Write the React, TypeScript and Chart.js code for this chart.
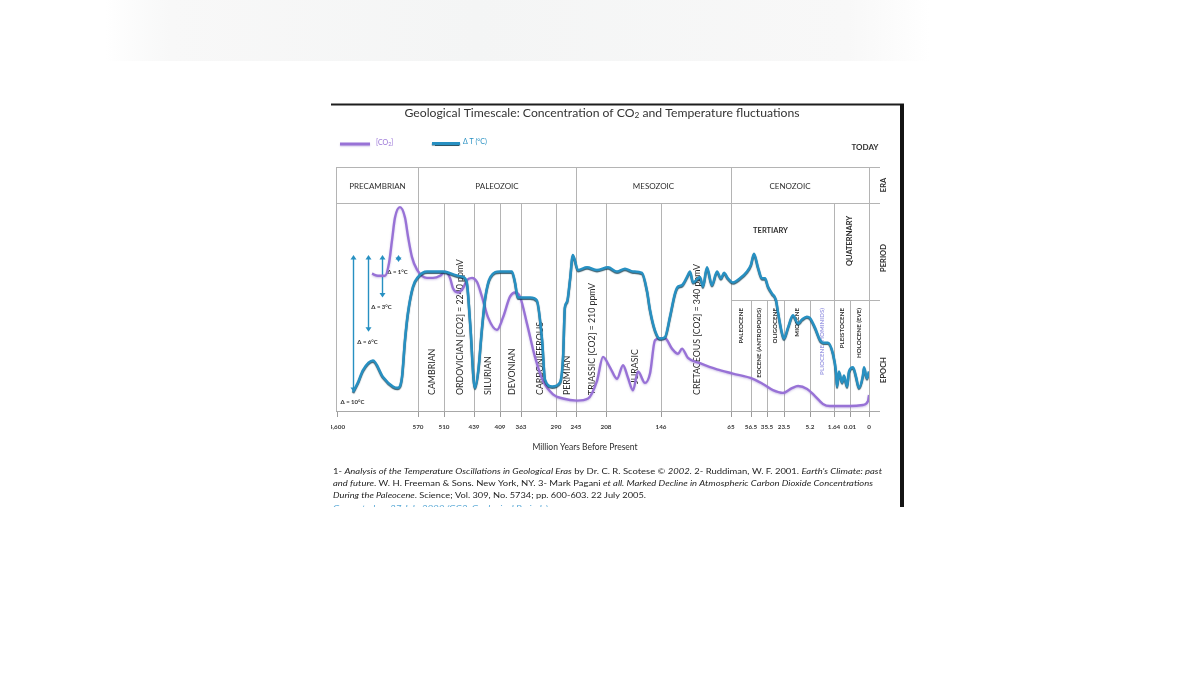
import React, { useEffect, useRef } from "react";
import { Chart, registerables } from "chart.js";

Chart.register(...registerables);

// ---------------- data ----------------
// x axis: non-linear geological time axis (million years before present)
const tickMa = [4600, 570, 510, 439, 409, 363, 290, 245, 208, 146, 65, 56.5, 35.5, 23.5, 5.2, 1.64, 0.01, 0];
const tickLabels = ["4,600", "570", "510", "439", "409", "363", "290", "245", "208", "146", "65", "56.5", "35.5", "23.5", "5.2", "1.64", "0.01", "0"];
// distance of each tick along the axis (axis units)
const tickOffsets = [0, 81, 107, 137, 163, 184, 219, 239, 269, 324, 394, 414, 430, 447, 473, 497, 513, 532];

// temperature fluctuation (°C above the coldest level)
const tempMa = [3804, 3555, 3306, 2809, 2311, 1814, 1565, 1366, 1217, 1068, 819, 570, 549, 512, 479, 465, 456, 448, 438, 434, 430, 426, 420, 409, 383, 376, 370, 344, 330, 319, 313, 298, 281, 274, 270, 265, 258.5, 252, 242.5, 231.4, 219.1, 205.7, 195.6, 186.6, 177.6, 167.4, 161.8, 158.4, 152.8, 147.1, 141.4, 135.6, 129.8, 126.3, 121.7, 115.9, 112.4, 108.9, 100.9, 97.4, 92.8, 87.0, 81.2, 76.6, 73.1, 68.5, 64.2, 61.2, 58.2, 56.5, 52.6, 47.3, 42.1, 38.1, 34.8, 32.0, 29.1, 27.7, 24.9, 23.5, 20.7, 17.2, 13.6, 10.8, 7.4, 5.2, 4.46, 3.72, 3.28, 2.54, 1.79, 1.44, 1.33, 1.13, 0.82, 0.62, 0.31, 0.11, 0.0084, 0.0068, 0.0053, 0.0032, 0.0026, 0.0011, 0];
const tempDelta = [0, 0.7, 1.6, 2.3, 1.1, 0.4, 0.3, 1.1, 3.8, 5.8, 7.7, 8.4, 8.8, 8.8, 8.5, 8.4, 8.0, 5.0, 0.3, 1.6, 4.5, 6.9, 8.4, 8.8, 8.8, 8.0, 6.9, 6.9, 6.7, 3.8, 0.9, 0.4, 0.7, 2.6, 6.2, 6.6, 8.2, 10.0, 8.9, 9.1, 8.9, 9.1, 8.8, 9.0, 8.8, 8.7, 7.4, 6.0, 4.5, 3.9, 4.0, 5.5, 7.2, 7.7, 7.8, 8.4, 8.8, 8.0, 8.4, 7.7, 9.1, 7.8, 8.8, 8.3, 8.7, 8.3, 8.0, 8.3, 8.8, 9.3, 10.1, 9.1, 8.3, 8.3, 7.7, 7.2, 6.7, 5.8, 4.3, 3.9, 4.7, 5.6, 5.0, 5.3, 5.5, 5.4, 4.7, 3.8, 3.6, 3.6, 2.8, 1.5, 0.4, 1.5, 0.7, 1.2, 0.4, 1.5, 1.8, 1.1, 0.3, 1.2, 1.8, 1.0, 1.5];

// CO2 concentration (relative level, 0-100)
const co2Ma = [2859, 2560, 2212, 2013, 1864, 1714, 1466, 1217, 1068, 869, 620, 549.2, 535.4, 519.2, 507.6, 495.8, 488.7, 476.9, 465, 455.6, 443.7, 435.5, 429.8, 422.8, 412.5, 402.4, 387.1, 376.1, 365.2, 350.5, 333.8, 317.1, 296.2, 274.3, 243.8, 230.2, 219.1, 211.7, 203.5, 195.6, 188.8, 183.2, 177.6, 171.9, 164.0, 158.4, 152.8, 147.1, 141.4, 133.3, 126.3, 121.7, 114.8, 100.9, 81.2, 64.2, 53.9, 40.8, 31.3, 24.2, 17.9, 13.6, 7.2, 4.46, 3.28, 2.24, 0.01, 0.0032, 0.0005, 0];
const co2Level = [66, 65, 65, 71, 82, 93, 98, 93, 84, 74, 68, 64, 64, 65, 67, 64, 59, 57, 59, 63, 64, 62, 55, 45, 39, 45, 55, 57, 55, 42, 26, 14.5, 8, 6, 5, 6, 14.5, 26, 21, 15.5, 22, 16, 10, 19, 13.5, 18, 34, 35, 35, 30, 27.5, 30, 25.5, 23, 20, 18, 15.5, 13, 10, 8.7, 11, 12, 10.6, 7.2, 3.4, 2.4, 2.4, 2.9, 4.8, 7.7];

const eraNames = ["PRECAMBRIAN", "PALEOZOIC", "MESOZOIC", "CENOZOIC"];
const eraBounds = [4600, 570, 245, 65, 0];
const periodNames = ["CAMBRIAN", "ORDOVICIAN [CO2] = 2240 ppmV", "SILURIAN", "DEVONIAN", "CARBONIFEROUS", "PERMIAN", "TRIASSIC [CO2] = 210 ppmV", "JURASIC", "CRETACEOUS [CO2] = 340 ppmV"];
const periodBounds = [570, 510, 439, 409, 363, 290, 245, 208, 146, 65];
const epochNames = ["PALEOCENE", "EOCENE (ANTROPOIDS)", "OLIGOCENE", "MIOCENE", "PLIOCENE (HOMINIDS)", "PLEISTOCENE", "HOLOCENE (EVE)"];
const epochBounds = [65, 56.5, 35.5, 23.5, 5.2, 1.64, 0.01, 0];

const deltaLabels = ["Δ = 10°C", "Δ = 6°C", "Δ = 3°C", "Δ = 1°C"];
const deltaMa = [3804, 3058, 2361, 1565];
const deltaTop = [10, 10, 10, 10];
const deltaBottom = [0, 4.4, 6.9, 9.5];

// ---------------- styling ----------------
const FONT = "Lato, 'Open Sans', 'DejaVu Sans', sans-serif";
const PURPLE = "#9872d6";
const BLUE = "#2790c2";
const TEXT = "#2e2e2e";
const GRID = "#b4b4b4";

function toAxis(ma: number): number {
  for (let i = 0; i < tickMa.length - 1; i++) {
    const a = tickMa[i];
    const b = tickMa[i + 1];
    if (ma <= a && ma >= b) {
      return tickOffsets[i] + ((a - ma) / (a - b)) * (tickOffsets[i + 1] - tickOffsets[i]);
    }
  }
  return ma > tickMa[0] ? 0 : tickOffsets[tickOffsets.length - 1];
}

type Seg = { t: string; size: number; weight?: string; style?: string; dy?: number; color?: string };

function rich(ctx: CanvasRenderingContext2D, segs: Seg[], x: number, y: number, align: "left" | "center", color: string, width?: number) {
  const fontOf = (s: Seg) => `${s.style || "normal"} ${s.weight || "normal"} ${s.size}px ${FONT}`;
  let total = 0;
  const ws = segs.map((s) => {
    ctx.font = fontOf(s);
    const w = ctx.measureText(s.t).width;
    total += w;
    return w;
  });
  const sc = width ? width / total : 1;
  const w = total * sc;
  const x0 = align === "center" ? x - w / 2 : x;
  ctx.save();
  ctx.translate(x0, y);
  ctx.scale(sc, 1);
  ctx.textBaseline = "middle";
  ctx.textAlign = "left";
  let cx = 0;
  segs.forEach((s, i) => {
    ctx.font = fontOf(s);
    ctx.fillStyle = s.color || color;
    ctx.fillText(s.t, cx, s.dy || 0);
    cx += ws[i];
  });
  ctx.restore();
}

function text(ctx: CanvasRenderingContext2D, t: string, x: number, y: number, font: string, color: string, align: CanvasTextAlign = "center", rot = 0) {
  ctx.save();
  ctx.translate(x, y);
  if (rot) ctx.rotate(rot);
  ctx.font = font;
  ctx.fillStyle = color;
  ctx.textAlign = align;
  ctx.textBaseline = "middle";
  ctx.fillText(t, 0, 0);
  ctx.restore();
}

function seg(ctx: CanvasRenderingContext2D, x1: number, y1: number, x2: number, y2: number) {
  ctx.beginPath();
  ctx.moveTo(x1, y1);
  ctx.lineTo(x2, y2);
  ctx.stroke();
}

const decor = {
  id: "decor",
  beforeDraw(chart: any) {
    const ctx: CanvasRenderingContext2D = chart.ctx;
    ctx.save();
    ctx.fillStyle = "#ffffff";
    ctx.fillRect(0, 0, chart.width, chart.height);
    const g = ctx.createLinearGradient(105, 0, 930, 0);
    g.addColorStop(0, "rgba(246,247,247,0)");
    g.addColorStop(0.08, "rgb(248,248,248)");
    g.addColorStop(0.45, "rgb(244,245,245)");
    g.addColorStop(0.9, "rgb(248,248,248)");
    g.addColorStop(1, "rgba(248,248,248,0)");
    ctx.fillStyle = g;
    ctx.fillRect(105, 0, 825, 61);
    ctx.restore();
    // clip everything the chart draws to the picture frame
    ctx.save();
    ctx.beginPath();
    ctx.rect(331, 104, 573, 403);
    ctx.clip();
  },
  beforeDatasetsDraw(chart: any) {
    const ctx: CanvasRenderingContext2D = chart.ctx;
    const xs = chart.scales.x;
    const yt = chart.scales.yt;
    const px = (ma: number) => xs.getPixelForValue(toAxis(ma));
    const bottom = chart.chartArea.bottom;
    const top = 167;
    const eraBottom = 203;
    const epochTop = 300;
    const left = 336;
    const right = 880;
    ctx.save();
    ctx.strokeStyle = GRID;
    ctx.lineWidth = 1;
    seg(ctx, left, top + 0.5, right, top + 0.5);
    seg(ctx, left, eraBottom + 0.5, right, eraBottom + 0.5);
    seg(ctx, px(65), epochTop + 0.5, right, epochTop + 0.5);
    ctx.strokeStyle = "#a8a8a8";
    seg(ctx, left, bottom + 0.5, right, bottom + 0.5);
    ctx.strokeStyle = GRID;
    seg(ctx, left + 0.5, top, left + 0.5, bottom);
    eraBounds.slice(1).forEach((ma) => {
      const x = Math.round(px(ma)) + 0.5;
      seg(ctx, x, top, x, bottom);
    });
    periodBounds.concat([1.64]).forEach((ma) => {
      if (eraBounds.indexOf(ma) >= 0) return;
      const x = Math.round(px(ma)) + 0.5;
      seg(ctx, x, eraBottom, x, bottom);
    });
    epochBounds.slice(1, -1).forEach((ma) => {
      if (ma === 1.64) return;
      const x = Math.round(px(ma)) + 0.5;
      seg(ctx, x, epochTop, x, bottom);
    });

    // era row
    eraNames.forEach((n, i) => {
      let cx = (px(eraBounds[i]) + px(eraBounds[i + 1])) / 2;
      if (i === 3) cx -= 10;
      text(ctx, n, cx, 186, `8px ${FONT}`, TEXT);
    });
    text(ctx, "TERTIARY", (px(65) + px(1.64)) / 2 - 12, 231, `bold 7.5px ${FONT}`, TEXT);
    text(ctx, "QUATERNARY", (px(1.64) + px(0)) / 2 - 2, 241, `bold 7.5px ${FONT}`, TEXT, "center", -Math.PI / 2);
    text(ctx, "ERA", 884, 185, `bold 7.5px ${FONT}`, TEXT, "center", -Math.PI / 2);
    text(ctx, "PERIOD", 884, 258, `bold 7.5px ${FONT}`, TEXT, "center", -Math.PI / 2);
    text(ctx, "EPOCH", 884, 370, `bold 7.5px ${FONT}`, TEXT, "center", -Math.PI / 2);

    // period labels (rotated, reading upwards from the bottom)
    periodNames.forEach((n, i) => {
      const cx = (px(periodBounds[i]) + px(periodBounds[i + 1])) / 2 + 1.5;
      const yb = n === "JURASIC" ? 384 : 395;
      text(ctx, n, cx, yb, `8.8px ${FONT}`, TEXT, "left", -Math.PI / 2);
    });
    // epoch labels (rotated, ending at the top)
    epochNames.forEach((n, i) => {
      const cx = (px(epochBounds[i]) + px(epochBounds[i + 1])) / 2;
      const col = n.indexOf("PLIOCENE") === 0 ? "#9d9be3" : TEXT;
      text(ctx, n, cx, 308, `bold 6.2px ${FONT}`, col, "right", -Math.PI / 2);
    });

    // delta arrows
    deltaMa.forEach((ma, i) => {
      const x = Math.round(px(ma)) + 0.5;
      const y1 = yt.getPixelForValue(deltaTop[i]);
      const y2 = yt.getPixelForValue(deltaBottom[i]);
      ctx.strokeStyle = BLUE;
      ctx.fillStyle = BLUE;
      ctx.lineWidth = 1.4;
      seg(ctx, x, y1 + 3, x, y2 - 3);
      ctx.beginPath();
      ctx.moveTo(x, y1);
      ctx.lineTo(x - 3, y1 + 4.5);
      ctx.lineTo(x + 3, y1 + 4.5);
      ctx.closePath();
      ctx.fill();
      ctx.beginPath();
      ctx.moveTo(x, y2);
      ctx.lineTo(x - 3, y2 - 4.5);
      ctx.lineTo(x + 3, y2 - 4.5);
      ctx.closePath();
      ctx.fill();
      text(ctx, deltaLabels[i], x - 1, y2 + 10, `bold 6px ${FONT}`, "#333");
    });

    text(ctx, "Million Years Before Present", 585, 447, `8.5px ${FONT}`, TEXT);
    ctx.restore();
  },
  beforeDatasetDraw(chart: any, args: any) {
    const ctx: CanvasRenderingContext2D = chart.ctx;
    ctx.save();
    if (args.index === 1) {
      ctx.shadowColor = "rgba(10,55,75,0.8)";
      ctx.shadowOffsetY = 1.2;
      ctx.shadowBlur = 1;
    } else {
      ctx.shadowColor = "rgba(120,90,190,0.35)";
      ctx.shadowOffsetY = 1;
      ctx.shadowBlur = 2;
    }
  },
  afterDatasetDraw(chart: any) {
    chart.ctx.restore();
  },
  afterDraw(chart: any) {
    const ctx: CanvasRenderingContext2D = chart.ctx;
    ctx.restore(); // end of frame clip
    ctx.save();
    // frame borders
    ctx.fillStyle = "#1e1e1e";
    ctx.fillRect(331, 103.5, 573, 2);
    ctx.fillStyle = "#141414";
    ctx.fillRect(900, 104, 4, 403);

    // title
    rich(ctx, [
      { t: "Geological Timescale: Concentration of CO", size: 11 },
      { t: "2", size: 7.5, dy: 2.5 },
      { t: " and Temperature fluctuations", size: 11 },
    ], 602, 113, "center", "#333", 395);

    // legend
    const ds = chart.data.datasets;
    ctx.lineCap = "butt";
    ctx.save();
    ctx.strokeStyle = ds[0].borderColor;
    ctx.lineWidth = 3;
    ctx.shadowColor = "rgba(120,90,190,0.35)";
    ctx.shadowOffsetY = 1;
    ctx.shadowBlur = 1.5;
    seg(ctx, 340, 144, 370, 144);
    ctx.restore();
    rich(ctx, [
      { t: "[CO", size: 7 },
      { t: "2", size: 5, dy: 2 },
      { t: "]", size: 7 },
    ], 376, 142.5, "left", ds[0].borderColor);
    ctx.save();
    ctx.strokeStyle = ds[1].borderColor;
    ctx.lineWidth = 3;
    ctx.shadowColor = "rgba(10,55,75,0.85)";
    ctx.shadowOffsetY = 1.3;
    ctx.shadowBlur = 1;
    seg(ctx, 432, 143.5, 460, 143.5);
    ctx.restore();
    rich(ctx, [{ t: ds[1].label, size: 7 }], 463, 142, "left", ds[1].borderColor);

    text(ctx, "TODAY", 865, 147, `bold 8px ${FONT}`, "#333");

    // footnotes
    const n = (t: string): Seg => ({ t, size: 8.3 });
    const it = (t: string): Seg => ({ t, size: 8.3, style: "italic" });
    rich(ctx, [
      n("1- "), it("Analysis of the Temperature Oscillations in Geological Eras"), n(" by Dr. C. R. Scotese © "), it("2002."),
      n(" 2- Ruddiman, W. F. 2001. "), it("Earth's Climate: past"),
    ], 333, 471, "left", "#1e1e1e", 549);
    rich(ctx, [
      it("and future"), n(". W. H. Freeman & Sons. New York, NY. 3- Mark Pagani "),
      it("et all. Marked Decline in Atmospheric Carbon Dioxide Concentrations"),
    ], 333, 483, "left", "#1e1e1e", 540);
    rich(ctx, [
      it("During the Paleocene"), n(". Science; Vol. 309, No. 5734; pp. 600-603. 22 July 2005."),
    ], 333, 495, "left", "#1e1e1e", 313);
    ctx.save();
    ctx.beginPath();
    ctx.rect(331, 500, 569, 7);
    ctx.clip();
    rich(ctx, [it("Generated on 27 July 2009 (GC2, Geological Periods)")], 333, 508, "left", "#5aa9d6", 215);
    ctx.restore();
    ctx.restore();
  },
};

export default function App() {
  const ref = useRef<HTMLCanvasElement | null>(null);
  useEffect(() => {
    if (!ref.current) return;
    const co2Data = co2Ma.map((m, i) => ({ x: toAxis(m), y: co2Level[i] }));
    const tempData = tempMa.map((m, i) => ({ x: toAxis(m), y: tempDelta[i] }));
    const chart = new Chart(ref.current, {
      type: "line",
      data: {
        datasets: [
          {
            label: "[CO₂]",
            data: co2Data,
            yAxisID: "yc",
            borderColor: PURPLE,
            borderWidth: 2.4,
            pointRadius: 0,
            cubicInterpolationMode: "monotone",
            fill: false,
            order: 1,
          },
          {
            label: "Δ T (°C)",
            data: tempData,
            yAxisID: "yt",
            borderColor: BLUE,
            borderWidth: 2.5,
            pointRadius: 0,
            cubicInterpolationMode: "monotone",
            fill: false,
            order: 0,
          },
        ],
      },
      options: {
        responsive: false,
        animation: false,
        devicePixelRatio: 1,
        layout: { padding: { left: 337, right: 331, top: 203, bottom: 244 } },
        plugins: { legend: { display: false }, tooltip: { enabled: false }, title: { display: false } },
        scales: {
          x: {
            type: "linear",
            min: 0,
            max: tickOffsets[tickOffsets.length - 1],
            afterBuildTicks: (scale: any) => {
              scale.ticks = tickOffsets.map((v) => ({ value: v }));
            },
            afterFit: (scale: any) => {
              scale.height = 20;
            },
            grid: { drawOnChartArea: false, drawTicks: true, tickLength: 6, color: "#9c9c9c" },
            border: { display: false },
            ticks: {
              autoSkip: false,
              maxRotation: 0,
              minRotation: 0,
              padding: 6,
              color: "#3a3a3a",
              font: { family: FONT, size: 6.3, weight: "bold" },
              callback: (v: any) => {
                const i = tickOffsets.indexOf(Number(v));
                return i >= 0 ? tickLabels[i] : "";
              },
            },
          },
          yt: { type: "linear", display: false, min: -1.39, max: 13.8 },
          yc: { type: "linear", display: false, min: 0, max: 100 },
        },
      } as any,
      plugins: [decor],
    });
    return () => chart.destroy();
  }, []);
  return (
    <div style={{ position: "absolute", left: 0, top: 0, width: 1200, height: 675 }}>
      <canvas ref={ref} width={1200} height={675} style={{ display: "block" }} />
    </div>
  );
}
